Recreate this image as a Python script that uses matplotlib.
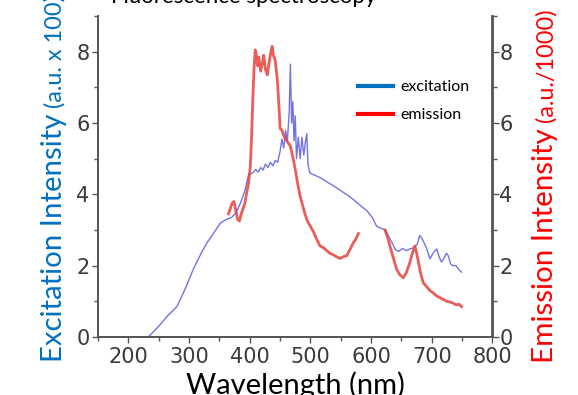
import numpy as np
import matplotlib.pyplot as plt
from matplotlib.lines import Line2D
from matplotlib.ticker import MultipleLocator

# excitation spectrum (left axis, a.u. x 100)
exc_wl = [233, 250, 265, 280, 295, 307, 320, 330, 342, 352, 362, 370, 378, 385, 392,
          398, 405, 410, 414, 418, 422, 426, 430, 434, 438, 442, 446, 450, 453, 456,
          459, 462, 465, 467, 469, 471, 473, 475, 477, 480, 483, 486, 489, 492, 494,
          496, 499, 505, 516, 527, 538, 552, 566, 580, 593, 602, 609, 616, 623, 628,
          634, 640, 645, 652, 658, 664, 670, 676, 680, 684, 688, 692, 697, 702, 708,
          712, 716, 720, 724, 727, 731, 735, 740, 744, 749]
exc_val = [0.0, 0.3, 0.6, 0.85, 1.4, 1.9, 2.35, 2.65, 2.95, 3.2, 3.3, 3.35, 3.5, 3.77, 4.1,
           4.55, 4.6, 4.7, 4.62, 4.75, 4.68, 4.85, 4.75, 4.9, 4.8, 4.95, 4.9, 5.2, 5.55, 5.3,
           5.8, 5.5, 6.3, 7.65, 6.0, 6.6, 5.5, 6.2, 5.0, 5.6, 5.0, 5.6, 5.1, 5.5, 5.7,
           4.85, 4.6, 4.55, 4.47, 4.35, 4.24, 4.08, 3.92, 3.72, 3.54, 3.35, 3.11, 3.05, 3.0, 2.85,
           2.66, 2.45, 2.4, 2.48, 2.42, 2.47, 2.5, 2.6, 2.85, 2.75, 2.62, 2.45, 2.19, 2.35, 2.47,
           2.25, 2.1, 2.2, 2.35, 2.28, 2.05, 2.0, 2.0, 1.9, 1.82]

# emission spectrum (right axis, a.u./1000), two measured pieces
emi_wl_a = [365, 368, 371, 374, 377, 380, 383, 386, 389, 392, 395, 398, 401, 403, 405,
            407, 409, 411, 413, 415, 418, 421, 423, 426, 429, 432, 435, 437, 439, 442,
            445, 447, 449, 450, 453, 456, 459, 463, 467, 471, 475, 479, 483, 487, 491,
            495, 500, 505, 510, 516, 522, 527, 532, 538, 543, 549, 554, 560, 565, 571,
            575, 579]
emi_val_a = [3.45, 3.6, 3.75, 3.8, 3.55, 3.3, 3.25, 3.45, 3.6, 3.75, 4.05, 4.3, 4.8, 5.6, 6.6,
             7.5, 8.05, 7.9, 7.6, 7.85, 7.45, 7.7, 7.9, 7.5, 7.35, 7.7, 8.0, 8.15, 7.9, 7.75,
             7.3, 6.8, 6.2, 5.85, 5.8, 5.65, 5.55, 5.45, 5.35, 5.05, 4.7, 4.3, 3.95, 3.7, 3.45,
             3.25, 3.1, 2.95, 2.75, 2.55, 2.5, 2.42, 2.35, 2.3, 2.25, 2.2, 2.25, 2.28, 2.45, 2.65,
             2.75, 2.9]
emi_wl_b = [623, 627, 631, 636, 642, 647, 653, 658, 664, 668, 672, 675, 678, 682, 686,
            692, 697, 702, 708, 714, 719, 725, 730, 735, 740, 745, 749]
emi_val_b = [3.0, 2.8, 2.55, 2.25, 1.9, 1.75, 1.66, 1.8, 2.1, 2.35, 2.55, 2.35, 2.1, 1.75, 1.52,
             1.4, 1.3, 1.24, 1.15, 1.1, 1.05, 1.0, 0.98, 0.95, 0.9, 0.92, 0.85]

blue = '#0070C0'
red = '#FF0000'
gray = '#555555'
W, H = 578, 395

fig = plt.figure(figsize=(5.78, 3.95), dpi=100)
ax = fig.add_axes([98 / W, 1 - 337 / H, 394.5 / W, 321 / H])
ax2 = ax.twinx()

ax.plot(exc_wl, exc_val, color='#5a5ae6', lw=1.0, alpha=0.85)
ax2.plot(emi_wl_a, emi_val_a, color='#e8403a', lw=2.0, alpha=0.85)
ax2.plot(emi_wl_b, emi_val_b, color='#e8403a', lw=2.0, alpha=0.85)

for a in (ax, ax2):
    a.set_xlim(150, 800)
    a.set_ylim(0, 9)
    a.spines['top'].set_visible(False)
    for s in ('left', 'right', 'bottom'):
        a.spines[s].set_color(gray)
        a.spines[s].set_linewidth(1.3)
    a.yaxis.set_major_locator(MultipleLocator(2))
    a.yaxis.set_minor_locator(MultipleLocator(1))
    a.tick_params(which='major', direction='out', length=4, width=1, color=gray,
                  labelsize=15, labelcolor='#3a3a3a')
    a.tick_params(which='minor', direction='out', length=3, width=1, color=gray)
ax.tick_params(axis='y', pad=2)
ax2.tick_params(axis='y', pad=1)
ax.tick_params(axis='x', pad=3)
ax.xaxis.set_major_locator(MultipleLocator(100))
ax.xaxis.set_minor_locator(MultipleLocator(50))
ax.set_xticks([200, 300, 400, 500, 600, 700, 800])
for lab in ax.get_xticklabels() + ax.get_yticklabels() + ax2.get_yticklabels():
    lab.set_fontfamily('DejaVu Sans')

ax.set_xlabel('Wavelength (nm)', fontsize=21, family='Lato', color='black', va='baseline')
ax.xaxis.set_label_coords(0.5, (337 - 394) / 321)

# y labels, large + small parts
t1 = fig.text(62 / W, 1 - 362 / H, 'Excitation Intensity', rotation=90, rotation_mode='anchor',
              ha='left', va='baseline', fontsize=20, family='Lato', color=blue)
t2 = fig.text(553 / W, 1 - 363 / H, 'Emission Intensity', rotation=90, rotation_mode='anchor',
              ha='left', va='baseline', fontsize=20, family='Lato', color=red)
s1 = fig.text(62 / W, 0.5, '(a.u. x 100)', rotation=90, rotation_mode='anchor',
              ha='left', va='baseline', fontsize=15, family='Lato', color=blue)
s2 = fig.text(553 / W, 0.5, '(a.u./1000)', rotation=90, rotation_mode='anchor',
              ha='left', va='baseline', fontsize=15, family='Lato', color=red)

# title, mostly cut off by the top edge
fig.text(0.422, 1 - 3 / H, 'Fluorescence spectroscopy', ha='center', va='baseline',
         fontsize=16, family='Lato', color='black')

handles = [Line2D([], [], color=blue, lw=3), Line2D([], [], color=red, lw=3)]
ax2.legend(handles, ['excitation', 'emission'], loc='upper left',
           bbox_to_anchor=(0.659, 0.80), frameon=False, prop={'family': 'Lato', 'size': 11.5},
           borderpad=0, borderaxespad=0, handlelength=2.2, handletextpad=0.45,
           labelspacing=0.85)

# fit the rotated label lengths to the reference and stack the unit part after
fig.canvas.draw()
r = fig.canvas.get_renderer()
for big, target_big in ((t1, 249), (t2, 235)):
    bb = big.get_window_extent(r)
    big.set_fontsize(big.get_fontsize() * target_big / bb.height)
s2.set_fontsize(s2.get_fontsize() * 114 / s2.get_window_extent(r).height)
s1.set_fontsize(s2.get_fontsize())
fig.canvas.draw()
for big, small in ((t1, s1), (t2, s2)):
    bb = big.get_window_extent(r)
    small.set_y((bb.y1 + 6) / H)

fig.savefig('out.png', dpi=100)
